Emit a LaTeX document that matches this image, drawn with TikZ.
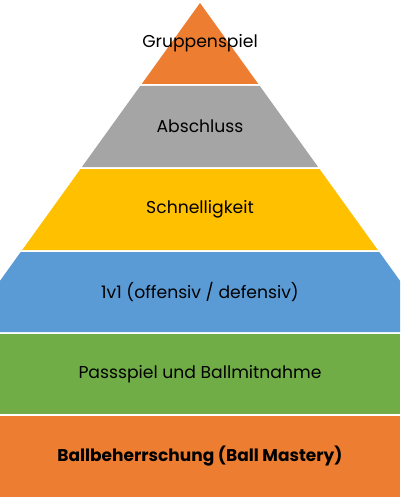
\documentclass[tikz,border=0pt]{standalone}
\usepackage{fontspec}
\setmainfont{Poppins}
\usepackage{tikz}
\definecolor{porange}{HTML}{ED7D31}
\definecolor{pgray}{HTML}{A5A5A5}
\definecolor{pyellow}{HTML}{FFC000}
\definecolor{pblue}{HTML}{5B9BD5}
\definecolor{pgreen}{HTML}{70AD47}
\tikzset{
  level/.style={font=\fontsize{17.2}{20}\selectfont, text=black, inner sep=0pt}
}

\begin{document}
\begin{tikzpicture}[x=1pt, y=-1pt]
    \useasboundingbox (0,0) rectangle (400,500);
    % pyramid layers
    \fill[porange] (200,3) -- (258.3,84) -- (141.7,84) -- cycle;
    \fill[pgray] (140.2,86) -- (259.8,86) -- (318.1,167) -- (81.9,167) -- cycle;
    \fill[pyellow] (80.5,169) -- (319.5,169) -- (377.8,250) -- (22.2,250) -- cycle;
    \fill[pblue] (20.7,252) -- (379.3,252) -- (400,280.8) -- (400,332)
      -- (0,332) -- (0,280.8) -- cycle;
    \fill[pgreen] (0,334) rectangle (400,414);
    \fill[porange] (0,416) rectangle (400,497);
    % labels
    \node[level] (gruppen) at (200,43.5) {Gruppenspiel};
    \node[level] (abschluss) at (200,126.5) {Abschluss};
    \node[level] (schnell) at (200,209.5) {Schnelligkeit};
    \node[level] (eins) at (200,292) {1v1 (offensiv / defensiv)};
    \node[level] (pass) at (200,374) {Passspiel und Ballmitnahme};
    \node[level, font=\fontsize{17}{20}\selectfont\bfseries] (ball) at (200,456.5) {Ballbeherrschung (Ball Mastery)};
  \end{tikzpicture}
\end{document}
